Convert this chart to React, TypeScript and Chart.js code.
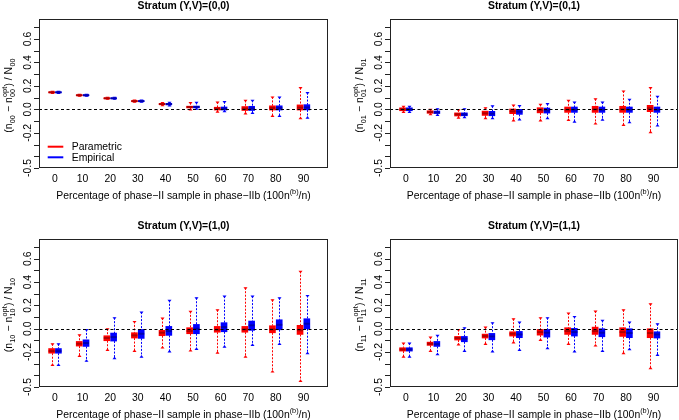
import React, { useEffect, useRef } from 'react';
import { Chart, registerables } from 'chart.js';

Chart.register(...registerables);

// ---------------- data ----------------
const percentages = [0, 10, 20, 30, 40, 50, 60, 70, 80, 90];
const yTickValues = [-0.5, -0.4, -0.3, -0.2, -0.1, 0, 0.1, 0.2, 0.3, 0.4, 0.5, 0.6, 0.7];
const yTickLabels = [-0.5, -0.2, 0, 0.2, 0.4, 0.6];
const methodNames = ['Parametric', 'Empirical'];
const methodColors = ['#ff0000', '#0000ff'];
const medianColors = ['#b00000', '#0000b0'];
const strataCodes = ['00', '01', '10', '11'];
const strataTitles = ['Stratum (Y,V)=(0,0)', 'Stratum (Y,V)=(0,1)', 'Stratum (Y,V)=(1,0)', 'Stratum (Y,V)=(1,1)'];

// each entry: [lower whisker, Q1, median, Q3, upper whisker]
const par00 = [
  [0.136, 0.141, 0.145, 0.149, 0.154],
  [0.112, 0.116, 0.120, 0.124, 0.128],
  [0.085, 0.090, 0.094, 0.098, 0.103],
  [0.061, 0.066, 0.070, 0.074, 0.079],
  [0.030, 0.039, 0.045, 0.050, 0.058],
  [-0.005, 0.012, 0.020, 0.027, 0.058],
  [-0.025, -0.006, 0.006, 0.018, 0.063],
  [-0.040, -0.010, 0.006, 0.024, 0.077],
  [-0.060, -0.006, 0.012, 0.030, 0.106],
  [-0.080, -0.006, 0.015, 0.038, 0.186],
];
const emp00 = [
  [0.136, 0.141, 0.145, 0.149, 0.154],
  [0.112, 0.116, 0.120, 0.124, 0.128],
  [0.085, 0.090, 0.094, 0.098, 0.103],
  [0.061, 0.066, 0.070, 0.074, 0.079],
  [0.028, 0.038, 0.045, 0.051, 0.060],
  [0.000, 0.012, 0.020, 0.028, 0.060],
  [-0.020, -0.006, 0.006, 0.020, 0.066],
  [-0.036, -0.010, 0.008, 0.026, 0.078],
  [-0.060, -0.006, 0.012, 0.030, 0.105],
  [-0.075, -0.005, 0.016, 0.040, 0.143],
];
const par01 = [
  [-0.026, -0.012, 0.000, 0.013, 0.026],
  [-0.046, -0.034, -0.023, -0.012, 0.000],
  [-0.075, -0.057, -0.043, -0.030, -0.003],
  [-0.080, -0.052, -0.034, -0.015, 0.014],
  [-0.100, -0.037, -0.017, 0.003, 0.037],
  [-0.100, -0.030, -0.009, 0.014, 0.043],
  [-0.095, -0.026, -0.003, 0.020, 0.077],
  [-0.126, -0.026, 0.000, 0.026, 0.090],
  [-0.137, -0.026, 0.000, 0.026, 0.157],
  [-0.200, -0.020, 0.009, 0.034, 0.186],
];
const emp01 = [
  [-0.026, -0.012, 0.000, 0.013, 0.026],
  [-0.052, -0.036, -0.026, -0.014, 0.006],
  [-0.072, -0.055, -0.043, -0.030, 0.006],
  [-0.080, -0.055, -0.037, -0.017, 0.030],
  [-0.090, -0.043, -0.020, 0.000, 0.032],
  [-0.080, -0.032, -0.011, 0.011, 0.049],
  [-0.109, -0.026, -0.003, 0.020, 0.063],
  [-0.092, -0.026, -0.003, 0.020, 0.063],
  [-0.115, -0.026, -0.003, 0.020, 0.086],
  [-0.143, -0.026, -0.003, 0.020, 0.112],
];
const par10 = [
  [-0.315, -0.210, -0.192, -0.170, -0.129],
  [-0.238, -0.149, -0.129, -0.109, -0.052],
  [-0.186, -0.103, -0.080, -0.060, 0.000],
  [-0.195, -0.080, -0.057, -0.034, 0.063],
  [-0.166, -0.060, -0.034, -0.014, 0.092],
  [-0.192, -0.043, -0.020, 0.009, 0.149],
  [-0.210, -0.030, -0.009, 0.020, 0.163],
  [-0.244, -0.030, -0.006, 0.020, 0.352],
  [-0.372, -0.035, -0.006, 0.026, 0.249],
  [-0.453, -0.049, -0.014, 0.029, 0.493],
];
const emp10 = [
  [-0.315, -0.210, -0.192, -0.170, -0.129],
  [-0.280, -0.152, -0.123, -0.095, -0.006],
  [-0.258, -0.106, -0.072, -0.037, 0.095],
  [-0.244, -0.083, -0.043, -0.006, 0.143],
  [-0.200, -0.057, -0.020, 0.020, 0.244],
  [-0.178, -0.043, 0.000, 0.037, 0.266],
  [-0.158, -0.026, 0.014, 0.052, 0.280],
  [-0.143, -0.014, 0.029, 0.066, 0.280],
  [-0.135, -0.009, 0.034, 0.077, 0.266],
  [-0.215, 0.000, 0.043, 0.086, 0.286],
];
const par11 = [
  [-0.244, -0.192, -0.178, -0.163, -0.123],
  [-0.195, -0.143, -0.129, -0.115, -0.072],
  [-0.140, -0.097, -0.080, -0.066, -0.006],
  [-0.135, -0.080, -0.063, -0.046, 0.014],
  [-0.123, -0.063, -0.043, -0.026, 0.086],
  [-0.100, -0.055, -0.029, -0.006, 0.095],
  [-0.135, -0.049, -0.020, 0.009, 0.135],
  [-0.149, -0.049, -0.020, 0.014, 0.152],
  [-0.215, -0.066, -0.029, 0.009, 0.163],
  [-0.344, -0.077, -0.037, 0.000, 0.215],
];
const emp11 = [
  [-0.244, -0.192, -0.178, -0.163, -0.123],
  [-0.223, -0.152, -0.132, -0.109, -0.057],
  [-0.195, -0.112, -0.086, -0.066, 0.009],
  [-0.200, -0.095, -0.066, -0.040, 0.052],
  [-0.186, -0.077, -0.049, -0.023, 0.057],
  [-0.172, -0.072, -0.034, -0.006, 0.095],
  [-0.200, -0.063, -0.029, 0.003, 0.106],
  [-0.195, -0.069, -0.034, 0.000, 0.072],
  [-0.180, -0.077, -0.037, 0.000, 0.057],
  [-0.229, -0.080, -0.049, -0.026, 0.043],
];

// ---------------- styling / layout ----------------
const FONT = "'Liberation Sans', Arial, Helvetica, sans-serif";
const FS = 10.4;
const SFS = 7.3;
const X_OFF = 0.123;
const X_MIN = -0.58;
const X_MAX = 9.89;
const Y_MIN = -0.5;
const Y_MAX = 0.77;

type Pad = { left: number; right: number; top: number; bottom: number };
type PanelCfg = {
  code: string;
  title: string;
  par: number[][];
  emp: number[][];
  left: number;
  top: number;
  width: number;
  height: number;
  pad: Pad;
  legend: boolean;
};

const panels: PanelCfg[] = [
  { code: strataCodes[0], title: strataTitles[0], par: par00, emp: emp00, left: 0, top: 0, width: 340, height: 210, pad: { left: 39, right: 12, top: 19, bottom: 42 }, legend: true },
  { code: strataCodes[1], title: strataTitles[1], par: par01, emp: emp01, left: 340, top: 0, width: 339, height: 210, pad: { left: 50, right: 1, top: 19, bottom: 42 }, legend: false },
  { code: strataCodes[2], title: strataTitles[2], par: par10, emp: emp10, left: 0, top: 210, width: 340, height: 210, pad: { left: 39, right: 12, top: 29, bottom: 33 }, legend: false },
  { code: strataCodes[3], title: strataTitles[3], par: par11, emp: emp11, left: 340, top: 210, width: 339, height: 210, pad: { left: 50, right: 1, top: 29, bottom: 33 }, legend: false },
];

function fmtTick(v: number): string {
  return v.toFixed(1);
}

function drawYTitle(ctx: CanvasRenderingContext2D, cx: number, cy: number, sub: string) {
  const main = `${FS}px ${FONT}`;
  const small = `${SFS}px ${FONT}`;
  type Seg = { t: string; kind: 'main' | 'sub' | 'subsup'; sup?: string };
  const segs: Seg[] = [
    { t: '(n', kind: 'main' },
    { t: sub, kind: 'sub' },
    { t: ' \u2212 n', kind: 'main' },
    { t: sub, kind: 'subsup', sup: 'opt' },
    { t: ') / N', kind: 'main' },
    { t: sub, kind: 'sub' },
  ];
  const widths = segs.map((s) => {
    if (s.kind === 'main') {
      ctx.font = main;
      return ctx.measureText(s.t).width;
    }
    ctx.font = small;
    const w1 = ctx.measureText(s.t).width;
    const w2 = s.sup ? ctx.measureText(s.sup).width : 0;
    return Math.max(w1, w2) + 0.6;
  });
  const total = widths.reduce((a, b) => a + b, 0);
  ctx.save();
  ctx.translate(cx, cy);
  ctx.rotate(-Math.PI / 2);
  ctx.fillStyle = '#000';
  ctx.textAlign = 'left';
  ctx.textBaseline = 'alphabetic';
  let x = -total / 2;
  const base = 3.7;
  segs.forEach((s, i) => {
    if (s.kind === 'main') {
      ctx.font = main;
      ctx.fillText(s.t, x, base);
    } else {
      ctx.font = small;
      ctx.fillText(s.t, x + 0.3, base + 2.8);
      if (s.sup) ctx.fillText(s.sup, x + 0.3, base - 5.2);
    }
    x += widths[i];
  });
  ctx.restore();
}

function drawXTitle(ctx: CanvasRenderingContext2D, cx: number, baseY: number) {
  const main = `${FS}px ${FONT}`;
  const small = `${SFS}px ${FONT}`;
  const t1 = 'Percentage of phase\u2212II sample in phase\u2212IIb (100n';
  const t2 = '(b)';
  const t3 = '/n)';
  ctx.font = main;
  const w1 = ctx.measureText(t1).width;
  const w3 = ctx.measureText(t3).width;
  ctx.font = small;
  const w2 = ctx.measureText(t2).width;
  const total = w1 + w2 + w3;
  let x = cx - total / 2;
  ctx.fillStyle = '#000';
  ctx.textAlign = 'left';
  ctx.textBaseline = 'alphabetic';
  ctx.font = main;
  ctx.fillText(t1, x, baseY);
  x += w1;
  ctx.font = small;
  ctx.fillText(t2, x, baseY - 4.2);
  x += w2;
  ctx.font = main;
  ctx.fillText(t3, x, baseY);
}

function makePlugin(cfg: PanelCfg) {
  const groups = [cfg.par, cfg.emp];
  return {
    id: 'rstyle' + cfg.code,
    beforeDatasetsDraw(chart: any) {
      const { ctx, scales } = chart;
      const xs = scales.x;
      const ys = scales.y;
      ctx.save();
      groups.forEach((boxes, m) => {
        const off = m === 0 ? -X_OFF : X_OFF;
        ctx.strokeStyle = methodColors[m];
        ctx.fillStyle = methodColors[m];
        ctx.lineWidth = 1;
        boxes.forEach((b, i) => {
          const px = Math.round(xs.getPixelForValue(i + off)) + 0.5;
          const yLo = ys.getPixelForValue(b[0]);
          const yQ1 = ys.getPixelForValue(b[1]);
          const yQ3 = ys.getPixelForValue(b[3]);
          const yHi = ys.getPixelForValue(b[4]);
          ctx.setLineDash([2, 1.5]);
          ctx.beginPath();
          ctx.moveTo(px, yHi);
          ctx.lineTo(px, yQ3);
          ctx.moveTo(px, yQ1);
          ctx.lineTo(px, yLo);
          ctx.stroke();
          ctx.setLineDash([]);
          ctx.beginPath();
          ctx.moveTo(px - 2, yHi - 0.5);
          ctx.lineTo(px + 2, yHi - 0.5);
          ctx.lineTo(px, yHi + 2.2);
          ctx.closePath();
          ctx.fill();
          ctx.beginPath();
          ctx.moveTo(px - 2, yLo + 0.5);
          ctx.lineTo(px + 2, yLo + 0.5);
          ctx.lineTo(px, yLo - 2.2);
          ctx.closePath();
          ctx.fill();
        });
      });
      ctx.restore();
    },
    afterDatasetsDraw(chart: any) {
      const { ctx, scales, chartArea: a } = chart;
      const xs = scales.x;
      const ys = scales.y;
      ctx.save();
      groups.forEach((boxes, m) => {
        const off = m === 0 ? -X_OFF : X_OFF;
        ctx.strokeStyle = medianColors[m];
        ctx.lineWidth = 2;
        boxes.forEach((b, i) => {
          const px = xs.getPixelForValue(i + off);
          const ym = ys.getPixelForValue(b[2]);
          ctx.beginPath();
          ctx.moveTo(px - 3, ym);
          ctx.lineTo(px + 3, ym);
          ctx.stroke();
        });
      });
      // dashed zero line
      const y0 = Math.round(ys.getPixelForValue(0)) + 0.5;
      ctx.strokeStyle = '#000';
      ctx.lineWidth = 1;
      ctx.setLineDash([3, 2.5]);
      ctx.beginPath();
      ctx.moveTo(a.left, y0);
      ctx.lineTo(a.right, y0);
      ctx.stroke();
      ctx.setLineDash([]);
      ctx.restore();
    },
    afterDraw(chart: any) {
      const { ctx, scales, chartArea: a } = chart;
      const xs = scales.x;
      const ys = scales.y;
      ctx.save();
      // frame
      ctx.strokeStyle = '#222';
      ctx.lineWidth = 1;
      ctx.strokeRect(Math.round(a.left) + 0.5, Math.round(a.top) + 0.5, Math.round(a.right - a.left) - 1, Math.round(a.bottom - a.top) - 1);
      // y ticks
      ctx.beginPath();
      yTickValues.forEach((v) => {
        const py = Math.round(ys.getPixelForValue(v)) + 0.5;
        ctx.moveTo(a.left - 5, py);
        ctx.lineTo(a.left, py);
      });
      ctx.stroke();
      // y tick labels (rotated)
      ctx.fillStyle = '#000';
      ctx.font = `${FS}px ${FONT}`;
      ctx.textAlign = 'center';
      ctx.textBaseline = 'middle';
      yTickLabels.forEach((v) => {
        const py = ys.getPixelForValue(v);
        ctx.save();
        ctx.translate(a.left - 10.5, py);
        ctx.rotate(-Math.PI / 2);
        ctx.fillText(fmtTick(v), 0, 0);
        ctx.restore();
      });
      // x tick labels
      percentages.forEach((p, i) => {
        const px = xs.getPixelForValue(i);
        ctx.fillText(String(p), px, a.bottom + 11.5);
      });
      // x title
      drawXTitle(ctx, (a.left + a.right) / 2, a.bottom + 30.5);
      // y title
      drawYTitle(ctx, a.left - 30.5, (a.top + a.bottom) / 2 + 2, cfg.code);
      // panel title
      ctx.font = `bold ${FS}px ${FONT}`;
      ctx.textAlign = 'center';
      ctx.textBaseline = 'alphabetic';
      ctx.fillText(cfg.title, (a.left + a.right) / 2, a.top - 10);
      // legend
      if (cfg.legend) {
        const rows = [a.bottom - 21.3, a.bottom - 10.7];
        rows.forEach((ry, m) => {
          ctx.strokeStyle = methodColors[m];
          ctx.lineWidth = 2;
          ctx.beginPath();
          ctx.moveTo(a.left + 8.7, ry);
          ctx.lineTo(a.left + 24.3, ry);
          ctx.stroke();
          ctx.fillStyle = '#000';
          ctx.font = `${FS}px ${FONT}`;
          ctx.textAlign = 'left';
          ctx.textBaseline = 'middle';
          ctx.fillText(methodNames[m], a.left + 32.7, ry + 0.5);
        });
      }
      ctx.restore();
    },
  };
}

function Panel({ cfg }: { cfg: PanelCfg }) {
  const ref = useRef<HTMLCanvasElement>(null);
  useEffect(() => {
    const canvas = ref.current;
    if (!canvas) return;
    const datasets = [cfg.par, cfg.emp].map((boxes, m) => ({
      type: 'bar' as const,
      label: methodNames[m],
      data: boxes.map((b, i) => ({ x: i + (m === 0 ? -X_OFF : X_OFF), y: [b[1], b[3]] })),
      backgroundColor: methodColors[m],
      borderColor: methodColors[m],
      borderWidth: 0,
      borderSkipped: false,
      barThickness: 6,
      grouped: false,
    }));
    const chart = new Chart(canvas, {
      type: 'bar',
      data: { datasets: datasets as any },
      options: {
        responsive: false,
        animation: false,
        devicePixelRatio: 1,
        events: [],
        layout: { padding: cfg.pad },
        plugins: {
          legend: { display: false },
          tooltip: { enabled: false },
          title: { display: false },
        },
        scales: {
          x: { type: 'linear', min: X_MIN, max: X_MAX, display: false, offset: false },
          y: { type: 'linear', min: Y_MIN, max: Y_MAX, display: false },
        },
      },
      plugins: [makePlugin(cfg)],
    } as any);
    return () => chart.destroy();
  }, [cfg]);
  return (
    <canvas
      ref={ref}
      width={cfg.width}
      height={cfg.height}
      style={{ position: 'absolute', left: cfg.left, top: cfg.top, width: cfg.width, height: cfg.height, display: 'block' }}
    />
  );
}

export default function App() {
  return (
    <div style={{ position: 'fixed', left: 0, top: 0, width: 679, height: 420, background: '#fff', overflow: 'hidden' }}>
      {panels.map((p) => (
        <Panel key={p.code} cfg={p} />
      ))}
    </div>
  );
}
